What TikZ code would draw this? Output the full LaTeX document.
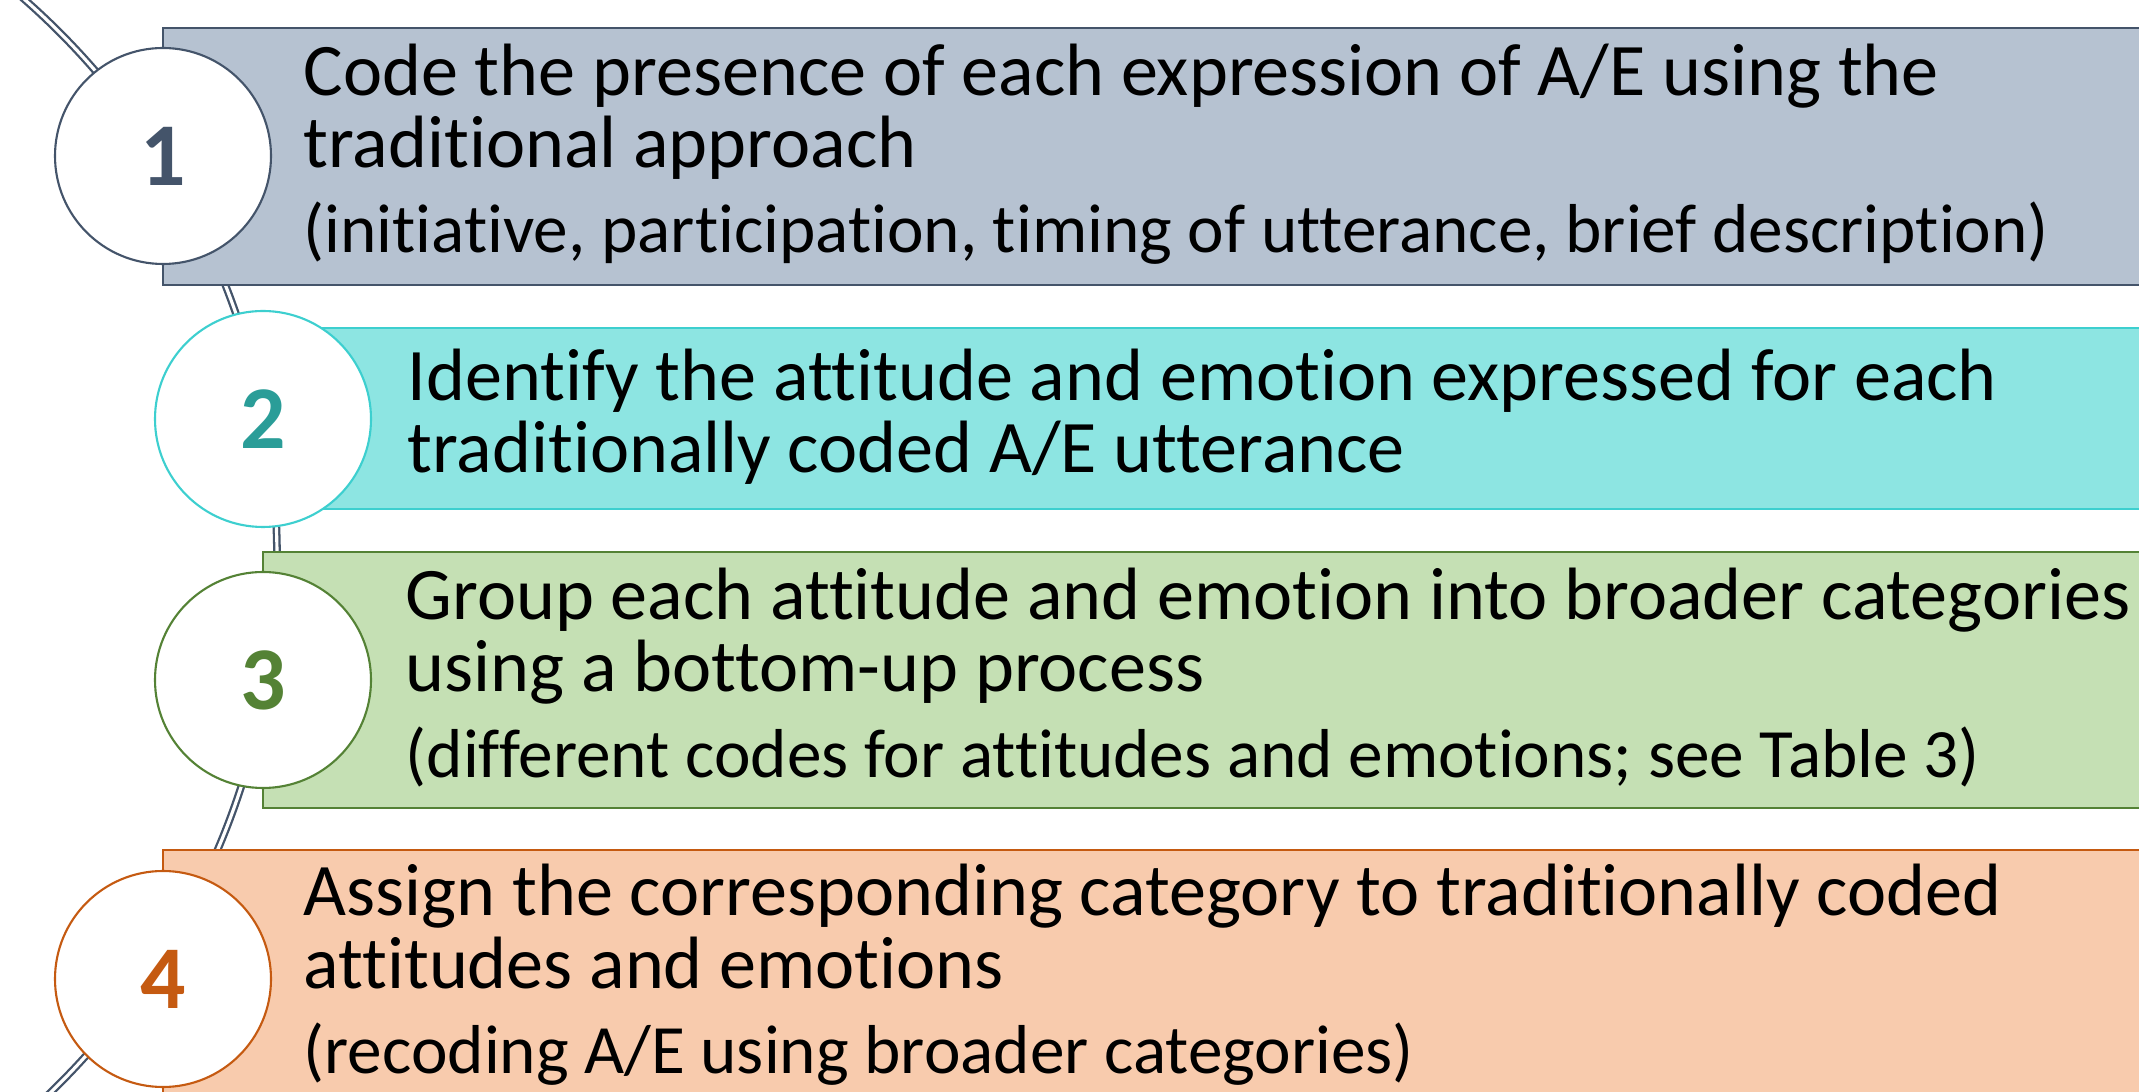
\documentclass[tikz,border=0pt]{standalone}
\usepackage{fontspec}
\setmainfont{Carlito}[Ligatures=NoCommon]
\usepackage{xcolor}
\usepackage{tikz}
\usetikzlibrary{
arrows.meta,
positioning
}
\definecolor{stslate}{HTML}{44546A}
\definecolor{stslatebg}{HTML}{B6C2D1}
\definecolor{stteal}{HTML}{3DCFCF}
\definecolor{sttealbg}{HTML}{8DE5E2}
\definecolor{sttealnum}{HTML}{2A9D98}
\definecolor{stgreen}{HTML}{548235}
\definecolor{stgreenbg}{HTML}{C5E0B4}
\definecolor{storange}{HTML}{C55A11}
\definecolor{storangebg}{HTML}{F8CBAD}

\begin{document}
\begin{tikzpicture}[
  stepbox/.style={line width=0.6pt},
  stepnum/.style={circle, draw, fill=white, line width=0.6pt,
    minimum size=2.16cm, inner sep=0pt,
    font=\fontsize{25.5}{25.5}\selectfont\bfseries},
  steptext/.style={anchor=base west, inner sep=0pt, align=left,
    font=\fontsize{21.1}{20.5}\selectfont},
  stepnote/.style={anchor=base west, inner sep=0pt,
    font=\fontsize{19.7}{20.5}\selectfont}
]
\clip (0,0) rectangle (21.39,10.91);

%% ── BACKBONE ARC ────────────────────────────────────────────
\draw[stslate, double, double distance=0.9pt, line width=0.65pt]
  (-4.67,5.33) circle (7.44);

%% ── STEP BOXES ──────────────────────────────────────────────
\filldraw[stepbox, draw=stslate,   fill=stslatebg]  (1.63,8.06) rectangle (22.5,10.63);
\filldraw[stepbox, draw=stteal,    fill=sttealbg]   (2.63,5.82) rectangle (22.5,7.63);
\filldraw[stepbox, draw=stgreen,   fill=stgreenbg]  (2.63,2.83) rectangle (22.5,5.39);
\filldraw[stepbox, draw=storange,  fill=storangebg] (1.63,-0.17) rectangle (22.5,2.41);

%% Step numbers
\node[stepnum, draw=stslate,  text=stslate]   (n1) at (1.63,9.35) {1};
\node[stepnum, draw=stteal,   text=sttealnum] (n2) at (2.63,6.72) {2};
\node[stepnum, draw=stgreen,  text=stgreen]   (n3) at (2.63,4.11) {3};
\node[stepnum, draw=storange, text=storange]  (n4) at (1.63,1.12) {4};

%% Step descriptions (anchored on the last line's baseline)
\node[steptext] (t1) at (3.03,9.23)
  {Code the presence of each expression of A/E using the\\
   traditional approach};
\node[stepnote] (s1) at (3.03,8.38)
  {(initiative, participation, timing of utterance, brief description)};

\node[steptext] (t2) at (4.07,6.18)
  {Identify the attitude and emotion expressed for each\\
   traditionally coded A/E utterance};

\node[steptext] (t3) at (4.05,3.99)
  {Group each attitude and emotion into broader categories\\
   using a bottom-up process};
\node[stepnote] (s3) at (4.05,3.13)
  {(different codes for attitudes and emotions; see Table 3)};

\node[steptext] (t4) at (3.03,1.03)
  {Assign the corresponding category to traditionally coded\\
   attitudes and emotions};
\node[stepnote] (s4) at (3.03,0.18)
  {(recoding A/E using broader categories)};

\end{tikzpicture}
\end{document}
